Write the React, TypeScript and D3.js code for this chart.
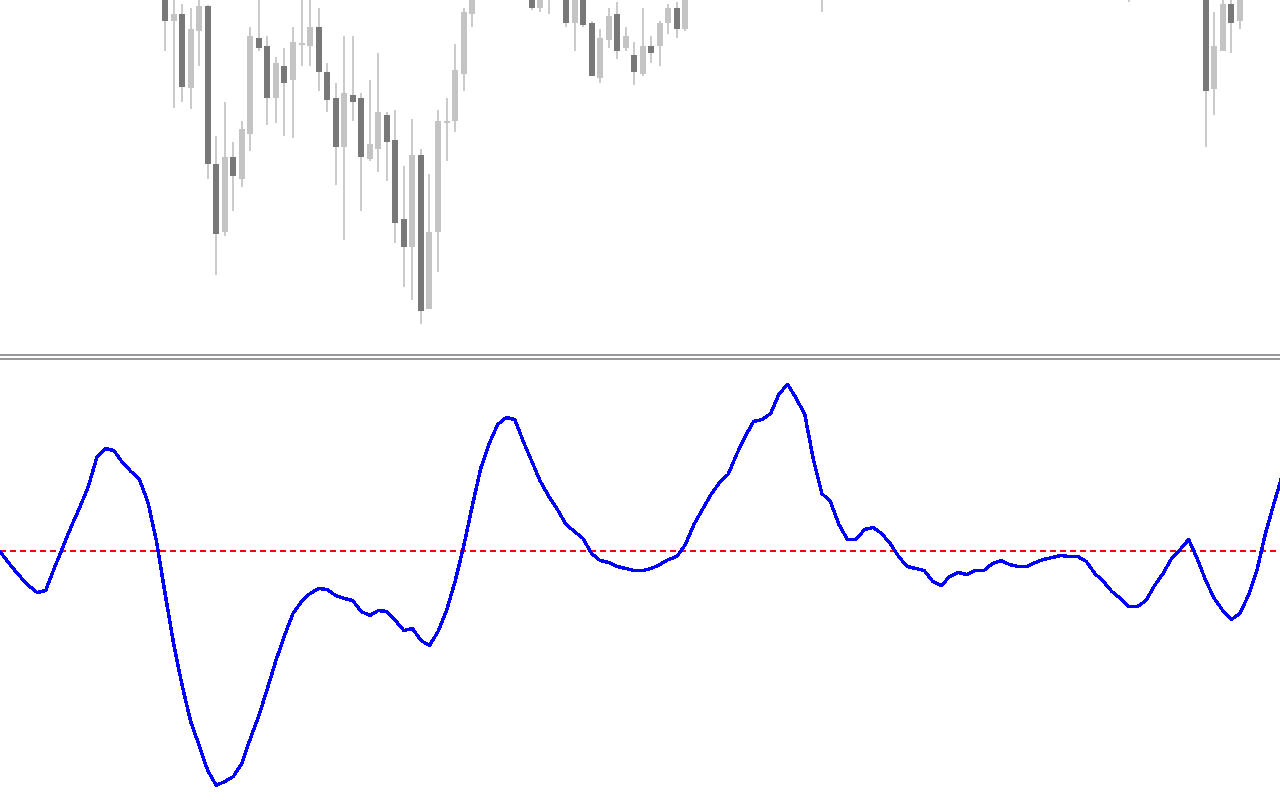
import React, { useEffect, useRef } from "react";
import * as d3 from "d3";

// Candles: [barIndex, open, high, low, close] (price units)
const candleIndex = [19, 20, 21, 22, 23, 24, 25, 26, 27, 28, 29, 30, 31, 32, 33, 34, 35, 36, 37, 38, 39, 40, 41, 42, 43, 44, 45, 46, 47, 48, 49, 50, 51, 52, 53, 54, 55, 62, 63, 64, 66, 67, 68, 69, 70, 71, 72, 73, 74, 75, 76, 77, 78, 79, 80, 96, 132, 141, 142, 143, 144, 145];
const candleOpen = [1020, 979, 986, 912, 969, 994, 836, 768, 843, 821, 866, 962, 954, 902, 934, 920, 955, 954, 973, 928, 902, 853, 905, 902, 841, 851, 885, 860, 781, 753, 845, 691, 768, 877, 879, 926, 986, 1015, 992, 1008, 1012, 977, 1006, 977, 922, 960, 986, 952, 945, 926, 954, 954, 977, 992, 971, 1010, 1006, 1025, 911, 949, 996, 979];
const candleHigh = [1025, 1010, 996, 992, 1005, 995, 864, 898, 858, 879, 973, 1003, 964, 943, 952, 973, 1002, 1004, 992, 937, 917, 964, 964, 907, 920, 947, 888, 890, 834, 881, 851, 826, 890, 902, 956, 992, 1020, 1020, 1018, 1020, 1016, 1010, 1012, 979, 971, 992, 998, 973, 958, 992, 964, 979, 996, 998, 1012, 1015, 1014, 1030, 988, 1004, 1004, 1012];
const candleLow = [949, 892, 898, 891, 934, 821, 725, 764, 789, 813, 849, 949, 875, 877, 864, 862, 934, 934, 909, 888, 815, 760, 879, 789, 839, 828, 819, 757, 713, 700, 676, 691, 728, 839, 868, 909, 973, 990, 988, 986, 973, 949, 973, 924, 917, 952, 941, 949, 915, 924, 937, 934, 966, 962, 969, 988, 998, 853, 885, 949, 947, 971];
const candleClose = [979, 986, 913, 971, 994, 836, 766, 843, 824, 871, 964, 952, 902, 937, 917, 958, 957, 973, 928, 900, 853, 907, 898, 843, 856, 888, 858, 777, 753, 845, 689, 768, 879, 879, 930, 988, 1015, 992, 1012, 1015, 977, 1005, 975, 924, 962, 984, 949, 964, 928, 954, 947, 977, 992, 971, 1008, 1004, 1010, 909, 954, 996, 977, 1008];

// Oscillator values, one per bar starting at bar -1
const oscStart = -1;
const oscValues = [
  0.04, -0.05, -0.16, -0.26, -0.35, -0.42, -0.40, -0.18, 0.03, 0.24, 0.43,
  0.64, 0.93, 1.02, 1.00, 0.88, 0.79, 0.71, 0.48, 0.09, -0.43,
  -0.93, -1.35, -1.71, -1.95, -2.20, -2.35, -2.31, -2.26, -2.13, -1.88,
  -1.65, -1.38, -1.10, -0.85, -0.63, -0.51, -0.43, -0.38, -0.39, -0.45,
  -0.48, -0.50, -0.61, -0.65, -0.60, -0.61, -0.70, -0.80, -0.78, -0.90,
  -0.95, -0.81, -0.60, -0.31, 0.04, 0.44, 0.82, 1.07, 1.26, 1.33,
  1.31, 1.09, 0.89, 0.69, 0.54, 0.41, 0.26, 0.19, 0.12, -0.03,
  -0.10, -0.12, -0.16, -0.18, -0.20, -0.20, -0.18, -0.14, -0.09, -0.06,
  0.06, 0.26, 0.41, 0.56, 0.68, 0.76, 0.96, 1.14, 1.29, 1.31,
  1.37, 1.57, 1.66, 1.52, 1.36, 0.91, 0.57, 0.49, 0.26, 0.11,
  0.11, 0.21, 0.23, 0.17, 0.07, -0.06, -0.16, -0.18, -0.20, -0.31,
  -0.35, -0.26, -0.22, -0.24, -0.20, -0.20, -0.13, -0.10, -0.14, -0.16,
  -0.16, -0.12, -0.09, -0.07, -0.05, -0.06, -0.06, -0.11, -0.23, -0.31,
  -0.41, -0.48, -0.56, -0.56, -0.50, -0.35, -0.23, -0.08, 0.01, 0.11,
  -0.08, -0.30, -0.48, -0.60, -0.69, -0.63, -0.45, -0.20, 0.17, 0.47,
  0.76,
];
const zeroLevel = 0;

const W = 1280;
const H = 800;

export default function App() {
  const ref = useRef<SVGSVGElement | null>(null);

  useEffect(() => {
    const svg = d3.select(ref.current);
    svg.selectAll("*").remove();

    const x = d3.scaleLinear().domain([0, 149]).range([3, 3 + 149 * 8.53]);
    const yPrice = d3.scaleLinear().domain([650, 1000]).range([350, 0]);
    const yOsc = d3.scaleLinear().domain([-2.5, 1.9]).range([800.5, 360.5]);

    svg.append("rect").attr("width", W).attr("height", H).attr("fill", "#ffffff");

    svg
      .append("defs")
      .append("clipPath")
      .attr("id", "topClip")
      .append("rect")
      .attr("x", 0)
      .attr("y", 0)
      .attr("width", W)
      .attr("height", 352);

    const candles = candleIndex.map((idx, k) => ({
      idx,
      o: candleOpen[k],
      h: candleHigh[k],
      l: candleLow[k],
      c: candleClose[k],
    }));

    const top = svg.append("g").attr("clip-path", "url(#topClip)");
    const g = top
      .selectAll("g.c")
      .data(candles)
      .join("g")
      .attr("class", "c");

    g.append("rect")
      .attr("x", (d) => Math.round(x(d.idx)) - 1)
      .attr("width", 2)
      .attr("y", (d) => yPrice(d.h))
      .attr("height", (d) => yPrice(d.l) - yPrice(d.h))
      .attr("fill", "#cbcbcb")
      .attr("shape-rendering", "crispEdges");

    g.append("rect")
      .attr("x", (d) => Math.round(x(d.idx)) - 3)
      .attr("width", 6)
      .attr("y", (d) => yPrice(Math.max(d.o, d.c)))
      .attr("height", (d) => Math.max(2, Math.abs(yPrice(d.o) - yPrice(d.c))))
      .attr("fill", (d) => (d.c < d.o ? "#787878" : "#c4c4c4"))
      .attr("shape-rendering", "crispEdges");

    svg.append("rect").attr("x", 0).attr("y", 353.5).attr("width", W).attr("height", 2).attr("fill", "#98989c").attr("shape-rendering", "crispEdges");
    svg.append("rect").attr("x", 0).attr("y", 358).attr("width", W).attr("height", 2).attr("fill", "#98989c").attr("shape-rendering", "crispEdges");

    svg
      .append("line")
      .attr("x1", 0)
      .attr("x2", W)
      .attr("y1", yOsc(zeroLevel))
      .attr("y2", yOsc(zeroLevel))
      .attr("stroke", "#ff0000")
      .attr("stroke-width", 2)
      .attr("stroke-dasharray", "6,4")
      .attr("shape-rendering", "crispEdges");

    const oscData = oscValues.map((v, k) => ({ i: oscStart + k, v }));
    const line = d3
      .line<{ i: number; v: number }>()
      .x((d) => x(d.i))
      .y((d) => yOsc(d.v));

    svg
      .append("path")
      .datum(oscData)
      .attr("d", line)
      .attr("fill", "none")
      .attr("stroke", "#0000ff")
      .attr("stroke-width", 3.5)
      .attr("stroke-linejoin", "round")
      .attr("shape-rendering", "crispEdges");
  }, []);

  return (
    <svg
      ref={ref}
      width={W}
      height={H}
      style={{ position: "absolute", left: 0, top: 0, display: "block" }}
    />
  );
}
